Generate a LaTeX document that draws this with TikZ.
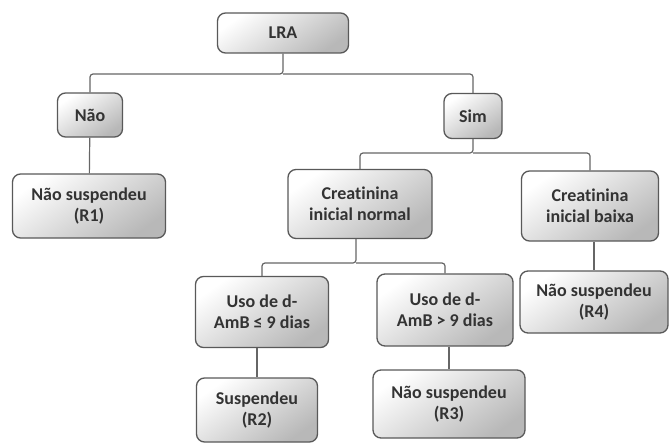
\documentclass[tikz,border=0pt]{standalone}
\usepackage{fontspec}
\setmainfont{Carlito}[Ligatures=NoCommon]
\usepackage{tikz}
\usetikzlibrary{positioning, calc}

\begin{document}
\begin{tikzpicture}[
  x=1pt, y=-1pt,
  box/.style={rectangle, rounded corners=8pt, draw=black!65, line width=1.3pt,
              top color=white, bottom color=black!28, shading angle=35,
              align=center, inner sep=2pt, text=black!80,
              font=\bfseries\fontsize{18}{21}\selectfont},
  link/.style={draw=black!60, line width=1.2pt, rounded corners=3pt}
]
  \useasboundingbox (0,0) rectangle (669,444);

  \node[box, minimum width=131pt, minimum height=40pt] (lra)  at (283,33)  {LRA};
  \node[box, minimum width=65pt,  minimum height=44pt] (nao)  at (90,115)  {Não};
  \node[box, minimum width=58pt,  minimum height=45pt] (sim)  at (473,116) {Sim};
  \node[box, minimum width=153pt, minimum height=64pt] (r1)   at (89,206)  {Não suspendeu\\(R1)};
  \node[box, minimum width=144pt, minimum height=69pt] (cin)  at (360,204) {Creatinina\\inicial normal};
  \node[box, minimum width=137pt, minimum height=70pt] (cib)  at (590,206) {Creatinina\\inicial baixa};
  \node[box, minimum width=133pt, minimum height=71pt] (uso1) at (262,312) {Uso de d-\\AmB ≤ 9 dias};
  \node[box, minimum width=136pt, minimum height=72pt] (uso2) at (445,310) {Uso de d-\\AmB > 9 dias};
  \node[box, minimum width=148pt, minimum height=62pt] (r4)   at (594,302) {Não suspendeu\\(R4)};
  \node[box, minimum width=121pt, minimum height=64pt] (r2)   at (257,410) {Suspendeu\\(R2)};
  \node[box, minimum width=152pt, minimum height=68pt] (r3)   at (449,404) {Não suspendeu\\(R3)};

  % junction points of the brackets
  \coordinate (j1) at (283,74);
  \coordinate (j2) at (473,153);
  \coordinate (j3) at (356,263);

  \draw[link] (lra) -- (j1) -| (nao);
  \draw[link] (j1) -| (sim);
  \draw[link] (sim) -- (j2) -| (cin);
  \draw[link] (j2) -| (cib);
  \draw[link] (cin.south -| j3) -- (j3) -| (uso1);
  \draw[link] (j3) -| (uso2);

  \draw[link] (nao) -- (r1);
  \draw[link] (cib.south -| r4.north) -- (r4);
  \draw[link] (uso1.south -| r2.north) -- (r2);
  \draw[link] (uso2.south -| r3.north) -- (r3);
\end{tikzpicture}
\end{document}
